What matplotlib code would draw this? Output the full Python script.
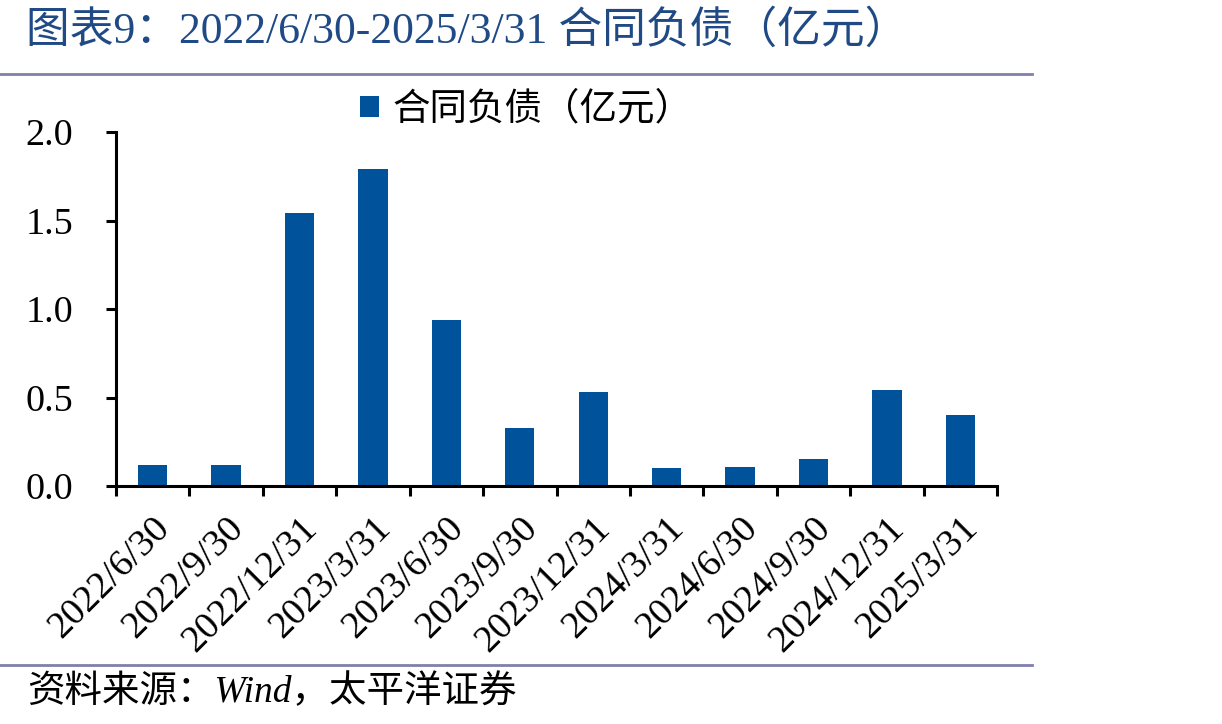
import matplotlib
matplotlib.use("Agg")
import matplotlib.pyplot as plt
from matplotlib.lines import Line2D
from matplotlib.patches import Patch

categories = ["2022/6/30", "2022/9/30", "2022/12/31", "2023/3/31", "2023/6/30",
              "2023/9/30", "2023/12/31", "2024/3/31", "2024/6/30", "2024/9/30",
              "2024/12/31", "2025/3/31"]
values = [0.12, 0.12, 1.54, 1.79, 0.94, 0.33, 0.53, 0.10, 0.11, 0.15, 0.54, 0.40]
series_name = "合同负债（亿元）"
yticks = [0.0, 0.5, 1.0, 1.5, 2.0]
ytick_labels = ["0.0", "0.5", "1.0", "1.5", "2.0"]
title = "图表9：2022/6/30-2025/3/31 合同负债（亿元）"
source = "资料来源：Wind，太平洋证券"

FAM = ["Liberation Serif", "Noto Sans CJK SC", "DejaVu Sans"]
plt.rcParams["font.family"] = FAM

W, H = 1222, 724
fig = plt.figure(figsize=(W / 100, H / 100), dpi=100)

ax_l, ax_r, ax_t, ax_b = 116, 997, 132, 486
ax = fig.add_axes([ax_l / W, 1 - ax_b / H, (ax_r - ax_l) / W, (ax_b - ax_t) / H])
x = list(range(len(categories)))
bar_color = "#00529B"
ax.bar(x, values, width=0.40, color=bar_color, zorder=2)

ax.set_xlim(-0.5, len(categories) - 0.5)
ax.set_ylim(0, 2.0)
ax.set_yticks(yticks)
ax.set_yticklabels(ytick_labels, fontsize=27.5)
ax.set_xticks(x)
ax.set_xticklabels(categories, fontsize=27.5, rotation=45, ha="right",
                   rotation_mode="anchor")
ax.set_xticks([i - 0.5 for i in range(len(categories) + 1)], minor=True)
ax.tick_params(axis="x", which="major", length=0, pad=18)
ax.tick_params(axis="x", which="minor", length=7, width=2.2, direction="out", color="black")
ax.tick_params(axis="y", which="major", length=7, width=2.2, direction="out", pad=24)

for s in ["top", "right"]:
    ax.spines[s].set_visible(False)
for s in ["left", "bottom"]:
    ax.spines[s].set_linewidth(2.2)
    ax.spines[s].set_color("black")

leg_cx = (526 - ax_l) / (ax_r - ax_l)
leg_cy = (ax_b - 110) / (ax_b - ax_t)
ax.legend(handles=[Patch(facecolor=bar_color, label=series_name)],
          loc="center", bbox_to_anchor=(leg_cx, leg_cy),
          frameon=False, fontsize=27, handlelength=0.52, handleheight=0.52,
          handletextpad=0.35, borderaxespad=0, borderpad=0)

fig.text(26 / W, 1 - 31 / H, title, fontsize=31.5, color="#1F4A85",
         ha="left", va="center", family=FAM)

line_color = "#8080A8"
fig.add_artist(Line2D([0, 1032 / W], [1 - 74 / H, 1 - 74 / H], color=line_color,
                      linewidth=2, transform=fig.transFigure))
fig.add_artist(Line2D([0, 1032 / W], [1 - 665 / H, 1 - 665 / H], color=line_color,
                      linewidth=2, transform=fig.transFigure))

fig.text(27 / W, 1 - 692 / H, source, fontsize=27, style="italic",
         ha="left", va="center", family=FAM)

fig.savefig("out.png", dpi=100)
